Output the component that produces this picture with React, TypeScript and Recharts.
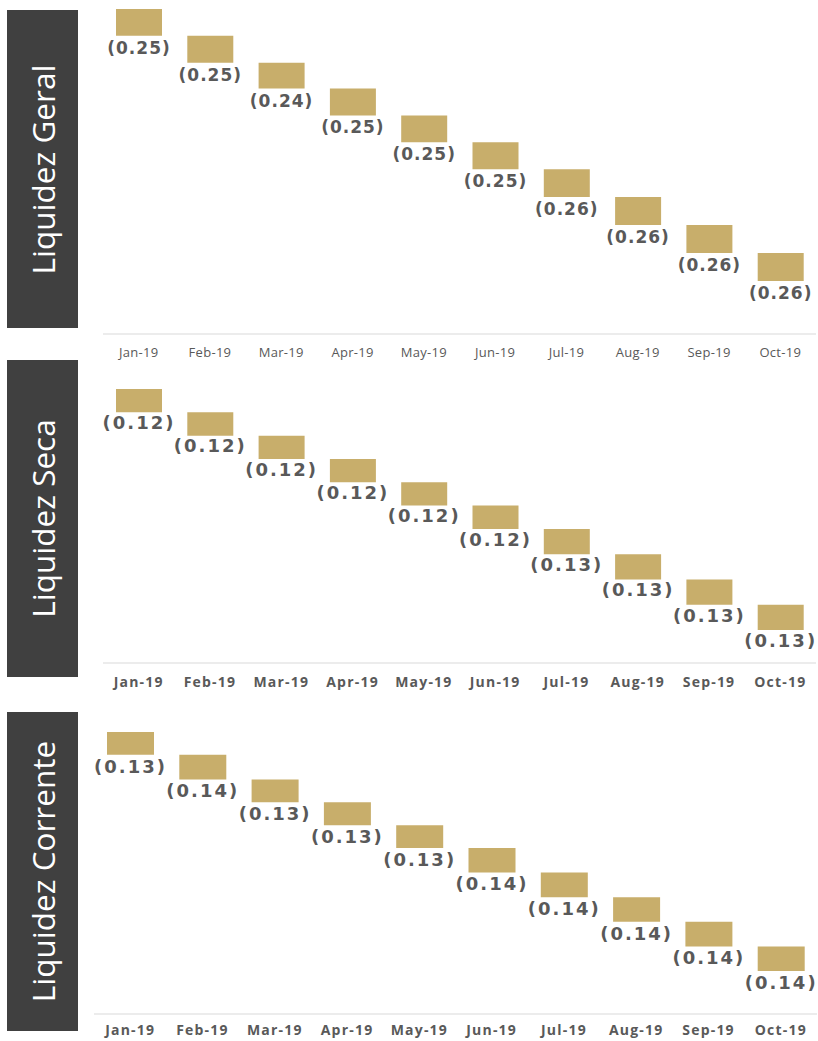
import { Bar, BarChart, XAxis, YAxis, LabelList } from 'recharts'

const months = ['Jan-19', 'Feb-19', 'Mar-19', 'Apr-19', 'May-19', 'Jun-19', 'Jul-19', 'Aug-19', 'Sep-19', 'Oct-19']
const geral = [0.25, 0.25, 0.24, 0.25, 0.25, 0.25, 0.26, 0.26, 0.26, 0.26]
const seca = [0.12, 0.12, 0.12, 0.12, 0.12, 0.12, 0.13, 0.13, 0.13, 0.13]
const corrente = [0.13, 0.14, 0.13, 0.13, 0.13, 0.14, 0.14, 0.14, 0.14, 0.14]

const GOLD = '#c8ae6b'
const TEXT = '#595959'

// waterfall rows: invisible base + visible step
function buildRows(values: number[]) {
  const total = values.reduce((a, b) => a + b, 0)
  let run = 0
  const rows = values.map((v, i) => {
    run += v
    return { name: months[i], base: total - run, value: v }
  })
  return { rows, total }
}

type PanelProps = {
  title: string
  values: number[]
  top: number
  left: number
  width: number
  height: number
  margin: { top: number; left: number; right: number; bottom: number }
  axisHeight: number
  pad: number
  barSize: number
  boldTicks: boolean
  tickMargin: number
  labelOffset: number
  labelSize: number
  labelSpacing: number
  box: { top: number; height: number }
}

function Panel(p: PanelProps) {
  const { rows, total } = buildRows(p.values)
  return (
    <>
      <div
        style={{
          position: 'absolute',
          left: 7,
          top: p.box.top,
          width: 71,
          height: p.box.height,
          background: '#404040',
          display: 'flex',
          alignItems: 'center',
          justifyContent: 'center',
        }}
      >
        <span
          style={{
            transform: 'rotate(-90deg)',
            whiteSpace: 'nowrap',
            color: '#ffffff',
            fontFamily: '"Open Sans", sans-serif',
            fontSize: 31.5,
            display: 'inline-block',
          }}
        >
          {p.title}
        </span>
      </div>
      <div style={{ position: 'absolute', left: p.left, top: p.top }}>
        <BarChart width={p.width} height={p.height} data={rows} margin={p.margin} barCategoryGap={0}>
          <XAxis
            dataKey="name"
            height={p.axisHeight}
            stroke="#d9d9d9"
            tickLine={false}
            tickMargin={p.tickMargin}
            interval={0}
            tick={{
              fill: TEXT,
              fontSize: p.boldTicks ? 14 : 13,
              fontWeight: p.boldTicks ? 700 : 400,
              letterSpacing: p.boldTicks ? 1.2 : 0.3,
              fontFamily: '"Open Sans", sans-serif',
            }}
          />
          <YAxis hide domain={[-total * p.pad, total]} />
          <Bar dataKey="base" stackId="w" fill="transparent" barSize={p.barSize} isAnimationActive={false} />
          <Bar dataKey="value" stackId="w" fill={GOLD} barSize={p.barSize} isAnimationActive={false}>
            <LabelList
              dataKey="value"
              position="bottom"
              offset={p.labelOffset}
              formatter={(v: any) => `(${Number(v).toFixed(2)})`}
              style={{
                fill: TEXT,
                fontFamily: '"DejaVu Sans", sans-serif',
                fontWeight: 700,
                fontSize: p.labelSize,
                letterSpacing: p.labelSpacing,
              }}
            />
          </Bar>
        </BarChart>
      </div>
    </>
  )
}

export default function App() {
  return (
    <div style={{ position: 'absolute', left: 0, top: 0, width: 818, height: 1041, background: '#ffffff' }}>
      <Panel
        title="Liquidez Geral"
        values={geral}
        top={0}
        left={100}
        width={718}
        height={370}
        margin={{ top: 9, left: 3, right: 2, bottom: 6 }}
        axisHeight={30}
        pad={0.195}
        barSize={46}
        boldTicks={false}
        tickMargin={8}
        labelOffset={6}
        labelSize={17}
        labelSpacing={1}
        box={{ top: 10, height: 318 }}
      />
      <Panel
        title="Liquidez Seca"
        values={seca}
        top={370}
        left={100}
        width={718}
        height={330}
        margin={{ top: 19, left: 3, right: 2, bottom: 7 }}
        axisHeight={30}
        pad={0.137}
        barSize={46}
        boldTicks={true}
        tickMargin={8}
        labelOffset={4}
        labelSize={18}
        labelSpacing={2}
        box={{ top: 360, height: 317 }}
      />
      <Panel
        title="Liquidez Corrente"
        values={corrente}
        top={710}
        left={90}
        width={728}
        height={331}
        margin={{ top: 22, left: 4, right: 1, bottom: 2 }}
        axisHeight={25}
        pad={0.18}
        barSize={47}
        boldTicks={true}
        tickMargin={5}
        labelOffset={5}
        labelSize={18}
        labelSpacing={2}
        box={{ top: 712, height: 319 }}
      />
    </div>
  )
}
